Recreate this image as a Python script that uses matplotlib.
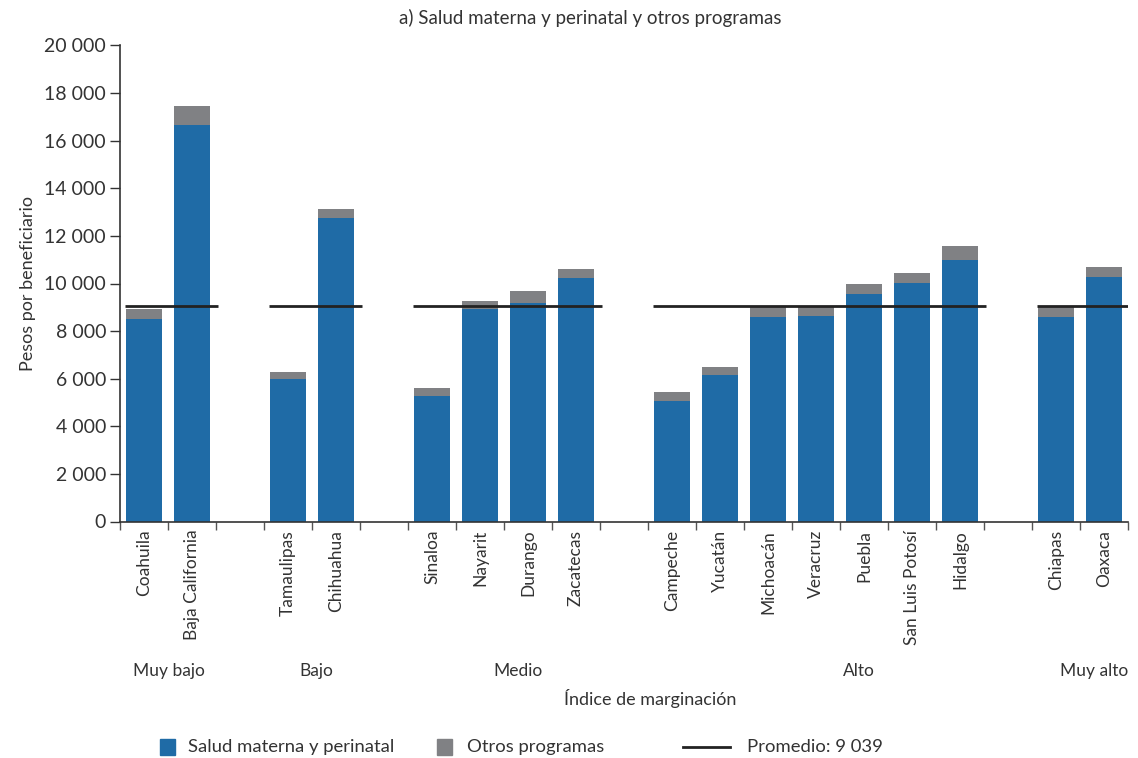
"""
plot.py

Pesos por beneficiario por entidad federativa, agrupado por índice de
marginación: salud materna y perinatal más otros programas (barras apiladas)
y el promedio nacional como línea por grupo.
"""

import matplotlib
matplotlib.use("Agg")
import matplotlib.pyplot as plt
from matplotlib.patches import Rectangle
from matplotlib.lines import Line2D
from matplotlib.ticker import FuncFormatter, FixedLocator

# ─── Data ──────────────────────────────────────────────────────────────────────
groups = ["Muy bajo", "Bajo", "Medio", "Alto", "Muy alto"]
group_states = [
    ["Coahuila", "Baja California"],
    ["Tamaulipas", "Chihuahua"],
    ["Sinaloa", "Nayarit", "Durango", "Zacatecas"],
    ["Campeche", "Yucatán", "Michoacán", "Veracruz", "Puebla",
     "San Luis Potosí", "Hidalgo"],
    ["Chiapas", "Oaxaca"],
]
salud_materna = [
    8510, 16660,
    5990, 12750,
    5270, 8930, 9180, 10230,
    5060, 6155, 8590, 8630, 9560, 10020, 10990,
    8590, 10270,
]
total = [
    8930, 17460,
    6280, 13130,
    5610, 9265, 9685, 10610,
    5440, 6490, 9020, 9010, 9980, 10440, 11580,
    9020, 10690,
]
otros = [t - s for t, s in zip(total, salud_materna)]
promedio = 9039
# ────────────────────────────────────────────────────────────────────────────────

BLUE = "#1f6ba6"
GRAY = "#808184"
TXT = "#333333"
FS = 12.5

plt.rcParams["font.family"] = ["Lato", "DejaVu Sans"]
plt.rcParams["text.color"] = TXT
plt.rcParams["axes.labelcolor"] = TXT
plt.rcParams["xtick.color"] = TXT
plt.rcParams["ytick.color"] = TXT

# x positions: one slot per state, one empty slot between groups
xpos, labels, group_ranges = [], [], []
pos = 0
for states in group_states:
    start = pos
    for s in states:
        xpos.append(pos)
        labels.append(s)
        pos += 1
    group_ranges.append((start, pos - 1))
    pos += 1

fig = plt.figure(figsize=(11.38, 7.58), dpi=100)
ax = fig.add_axes([120 / 1138, 1 - 521.5 / 758, 1008 / 1138, 476 / 758])

ax.bar(xpos, salud_materna, width=0.73, color=BLUE, zorder=2)
ax.bar(xpos, otros, width=0.73, bottom=salud_materna, color=GRAY, zorder=2)

# average line per marginalization group
for start, end in group_ranges:
    ax.plot([start - 0.4, end + 0.55], [promedio, promedio],
            color="#222222", lw=2, zorder=3, solid_capstyle="butt")

ax.set_xlim(-0.5, 20.5)
ax.set_ylim(0, 20000)
ax.set_yticks(range(0, 20001, 2000))
ax.yaxis.set_major_formatter(FuncFormatter(lambda v, p: f"{int(v):,}".replace(",", " ")))

ax.set_xticks(xpos)
ax.set_xticklabels(labels, rotation=90, fontsize=FS)
ax.xaxis.set_minor_locator(FixedLocator([k - 0.5 for k in range(0, 22)]))
ax.tick_params(axis="x", which="major", length=0, pad=6)
ax.tick_params(axis="x", which="minor", length=6, width=1, color="#555555")
ax.tick_params(axis="y", length=7, width=1, labelsize=14, pad=3, color="#333333")

for side in ["top", "right"]:
    ax.spines[side].set_visible(False)
for side in ["left", "bottom"]:
    ax.spines[side].set_color("#333333")
    ax.spines[side].set_linewidth(1.2)

ax.set_ylabel("Pesos por beneficiario", fontsize=13, labelpad=6)

# group labels under the state names
group_label_x = [0.52, 3.6, 7.8, 14.9, 19.8]
for g, gx in zip(groups, group_label_x):
    ax.text(gx, -6300, g, ha="center", va="center", fontsize=FS, clip_on=False)

fig.text(650 / 1138, 1 - 699 / 758, "Índice de marginación", ha="center",
         va="center", fontsize=13)
fig.text(590 / 1138, 1 - 18 / 758, "a) Salud materna y perinatal y otros programas",
         ha="center", va="center", fontsize=13.5)

# legend, drawn by hand in figure pixels
W, H = 1138, 758
LFS = 13.3
ly = 1 - 747 / H
fig.add_artist(Rectangle((160 / W, ly - 8 / H), 15 / W, 16 / H,
                         transform=fig.transFigure, color=BLUE))
fig.text(188 / W, ly, "Salud materna y perinatal", va="center", fontsize=LFS)
fig.add_artist(Rectangle((437 / W, ly - 8 / H), 15 / W, 16 / H,
                         transform=fig.transFigure, color=GRAY))
fig.text(467 / W, ly, "Otros programas", va="center", fontsize=LFS)
fig.add_artist(Line2D([683 / W, 730 / W], [ly, ly], transform=fig.transFigure,
                      color="#222222", lw=2))
fig.text(747 / W, ly, f"Promedio: {promedio:,}".replace(",", " "), va="center",
         fontsize=LFS)

fig.savefig("out.png", dpi=100)
